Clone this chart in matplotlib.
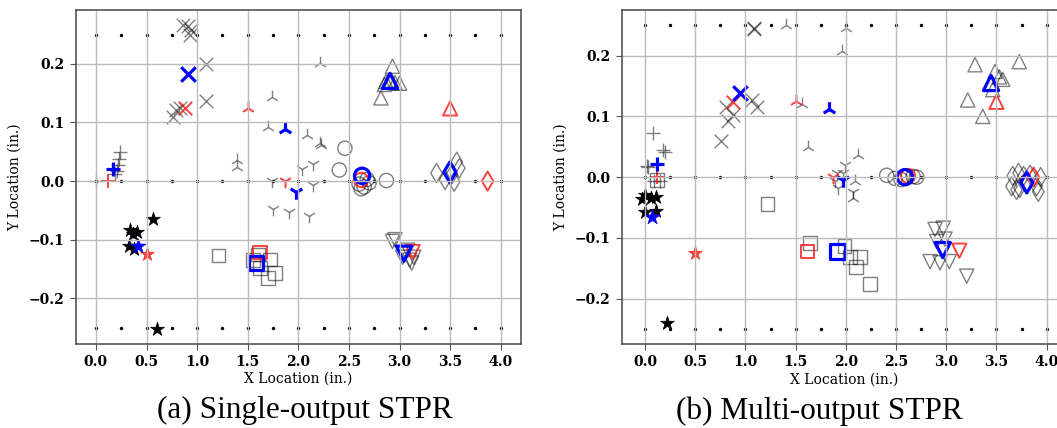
import numpy as np
import matplotlib
matplotlib.use('Agg')
import matplotlib.pyplot as plt

# reference sensor grid
sensor_x = [0.0, 0.25, 0.5, 0.75, 1.0, 1.25, 1.5, 1.75, 2.0, 2.25, 2.5, 2.75, 3.0, 3.25, 3.5, 3.75, 4.0]
sensor_y = [0.25, 0.0, -0.25]

markers = ['+', 'x', '2', '1', 'o', '^', 'd', '*', 's', 'v']

# true impact locations (red), same in both panels
true_x = [0.115, 0.88, 1.50, 1.87, 2.62, 3.50, 3.87, 0.50, 1.62, 3.13]
true_y = [0.0, 0.124, 0.125, 0.0, 0.002, 0.124, 0.0, -0.125, -0.122, -0.121]

# predicted means (blue)
mean_x_a = [0.164, 0.908, 1.869, 1.977, 2.63, 2.905, 3.497, 0.42, 1.582, 3.044]
mean_y_a = [0.020, 0.183, 0.089, -0.018, 0.009, 0.171, 0.015, -0.111, -0.140, -0.124]
mean_x_b = [0.12, 0.946, 1.836, 1.975, 2.59, 3.446, 3.802, 0.067, 1.919, 2.965]
mean_y_b = [0.021, 0.138, 0.112, -0.004, 0.0, 0.155, -0.009, -0.066, -0.1225, -0.120]

# individual predictions (gray / black stars), panel (a)
plus_a_x = [0.0, 0.24, 0.23, 0.22, 0.21, 0.19]
plus_a_y = [0.0, 0.050, 0.038, 0.028, 0.017, 0.012]
cross_a_x = [0.86, 0.908, 0.94, 0.93, 1.086, 1.086, 0.766, 0.79, 0.83]
cross_a_y = [0.266, 0.264, 0.257, 0.250, 0.200, 0.137, 0.109, 0.121, 0.124]
triup_a_x = [2.215, 1.737, 1.70, 2.083, 2.215, 2.22, 1.39, 1.39]
triup_a_y = [0.201, 0.143, 0.092, 0.078, 0.065, 0.062, 0.036, 0.024]
tridn_a_x = [1.737, 2.14, 2.04, 2.14, 1.75, 1.91, 2.11]
tridn_a_y = [0.0, -0.006, 0.020, 0.030, -0.048, -0.052, -0.060]
circ_a_x = [2.46, 2.405, 2.60, 2.65, 2.70, 2.68, 2.62, 2.87]
circ_a_y = [0.056, 0.019, -0.005, -0.010, -0.003, 0.003, -0.013, 0.001]
triu_a_x = [2.93, 2.866, 2.955, 3.0, 2.85, 2.92, 2.816]
triu_a_y = [0.196, 0.170, 0.168, 0.167, 0.165, 0.172, 0.142]
diam_a_x = [3.365, 3.45, 3.54, 3.565, 3.59, 3.515]
diam_a_y = [0.0136, 0.002, -0.001, 0.033, 0.022, 0.011]
star_a_x = [0.563, 0.339, 0.405, 0.365, 0.322, 0.381, 0.602]
star_a_y = [-0.064, -0.084, -0.087, -0.090, -0.110, -0.116, -0.252]
sq_a_x = [1.21, 1.55, 1.60, 1.62, 1.70, 1.77, 1.72]
sq_a_y = [-0.127, -0.135, -0.125, -0.148, -0.165, -0.157, -0.134]
trid_a_x = [2.93, 2.955, 3.08, 3.10, 3.12, 3.14, 3.03]
trid_a_y = [-0.103, -0.100, -0.118, -0.135, -0.140, -0.130, -0.130]

# individual predictions, panel (b)
plus_b_x = [0.076, 0.20, 0.184, 0.033, 0.023, 0.149, 0.09]
plus_b_y = [0.072, 0.042, 0.045, 0.017, 0.019, -0.007, -0.007]
cross_b_x = [1.086, 1.09, 0.807, 1.063, 1.112, 0.88, 0.83, 0.754]
cross_b_y = [0.244, 0.245, 0.115, 0.127, 0.116, 0.103, 0.093, 0.060]
triup_b_x = [1.404, 2.0, 1.96, 1.56, 1.627, 2.125, 2.09, 2.07]
triup_b_y = [0.251, 0.245, 0.207, 0.120, 0.050, 0.037, -0.007, -0.035]
tridn_b_x = [1.91, 1.99, 1.975, 1.89, 1.92, 2.07]
tridn_b_y = [0.007, 0.020, 0.007, -0.007, -0.018, -0.024]
circ_b_x = [2.407, 2.49, 2.55, 2.573, 2.67, 2.706]
circ_b_y = [0.003, -0.002, -0.004, 0.0, 0.001, 0.0]
triu_b_x = [3.287, 3.728, 3.486, 3.529, 3.562, 3.463, 3.214, 3.364]
triu_b_y = [0.185, 0.190, 0.174, 0.165, 0.161, 0.144, 0.127, 0.100]
diam_b_x = [3.662, 3.72, 3.77, 3.835, 3.94, 3.65, 3.73, 3.917, 3.90, 3.70]
diam_b_y = [0.002, 0.007, 0.002, 0.004, 0.0, -0.015, -0.018, -0.024, -0.015, -0.021]
star_b_x = [-0.033, 0.0, 0.057, 0.11, 0.0, 0.11, 0.222]
star_b_y = [-0.036, -0.030, -0.034, -0.032, -0.058, -0.056, -0.240]
sq_b_x = [0.12, 1.22, 1.643, 1.985, 2.04, 2.14, 2.10, 2.24]
sq_b_y = [-0.005, -0.044, -0.108, -0.113, -0.131, -0.131, -0.148, -0.176]
trid_b_x = [2.888, 2.97, 2.988, 2.905, 2.839, 2.938, 3.03, 3.204]
trid_b_y = [-0.086, -0.084, -0.102, -0.106, -0.139, -0.141, -0.139, -0.163]

samples_a = [(plus_a_x, plus_a_y), (cross_a_x, cross_a_y), (triup_a_x, triup_a_y),
             (tridn_a_x, tridn_a_y), (circ_a_x, circ_a_y), (triu_a_x, triu_a_y),
             (diam_a_x, diam_a_y), (star_a_x, star_a_y), (sq_a_x, sq_a_y), (trid_a_x, trid_a_y)]
samples_b = [(plus_b_x, plus_b_y), (cross_b_x, cross_b_y), (triup_b_x, triup_b_y),
             (tridn_b_x, tridn_b_y), (circ_b_x, circ_b_y), (triu_b_x, triu_b_y),
             (diam_b_x, diam_b_y), (star_b_x, star_b_y), (sq_b_x, sq_b_y), (trid_b_x, trid_b_y)]

size = {'+': 95, 'x': 95, '2': 95, '1': 95, 'o': 105, '^': 105, 'd': 95, '*': 110, 's': 95, 'v': 105}


def mark(ax, x, y, m, color, s, lw, alpha=1.0):
    if m in ['+', 'x', '1', '2']:
        ax.scatter(x, y, marker=m, s=s, color=color, linewidths=lw, alpha=alpha)
    elif m == '*':
        ax.scatter(x, y, marker=m, s=s, color=color, linewidths=0.5, alpha=alpha)
    else:
        ax.scatter(x, y, marker=m, s=s, facecolors='none', edgecolors=color,
                   linewidths=lw, alpha=alpha)


def panel(ax, samples, mean_x, mean_y):
    gx, gy = np.meshgrid(sensor_x, sensor_y)
    ax.scatter(gx.ravel(), gy.ravel(), s=6, color='k', marker='o', linewidths=0)
    for i, m in enumerate(markers):
        sx, sy = samples[i]
        if m == '*':
            mark(ax, sx, sy, m, 'k', size[m], 1.0)
        else:
            mark(ax, sx, sy, m, 'k', size[m], 1.0, alpha=0.5)
        mark(ax, [true_x[i]], [true_y[i]], m, 'r', size[m], 1.4, alpha=0.75)
        mark(ax, [mean_x[i]], [mean_y[i]], m, 'b', size[m] * 1.15, 2.3)
    ax.grid(color='#bbbbbb', linewidth=1.0)
    ax.set_xticks([0.0, 0.5, 1.0, 1.5, 2.0, 2.5, 3.0, 3.5, 4.0])
    ax.set_yticks([-0.2, -0.1, 0.0, 0.1, 0.2])
    for lab in ax.get_xticklabels() + ax.get_yticklabels():
        lab.set_fontfamily('DejaVu Serif')
        lab.set_fontweight('bold')
        lab.set_fontsize(10)
    ax.tick_params(color='#555555', length=4, pad=4)
    for sp in ax.spines.values():
        sp.set_color('#555555')
        sp.set_linewidth(1.2)
    ax.set_xlabel('X Location (in.)', fontfamily='DejaVu Serif', fontsize=10, labelpad=2)
    ax.set_ylabel('Y Location (in.)', fontfamily='DejaVu Serif', fontsize=10, labelpad=5)


fig = plt.figure(figsize=(10.57, 4.28), dpi=100)
ax1 = fig.add_axes([0.0716, 0.1963, 0.4213, 0.7804])
ax2 = fig.add_axes([0.5882, 0.1956, 0.4210, 0.7810])

panel(ax1, samples_a, mean_x_a, mean_y_a)
panel(ax2, samples_b, mean_x_b, mean_y_b)
ax1.set_xlim(-0.2, 4.2)
ax1.set_ylim(-0.278, 0.292)
ax2.set_xlim(-0.232, 4.2)
ax2.set_ylim(-0.275, 0.275)

fig.text(0.2885, 0.040, '(a) Single-output STPR', ha='center', va='center',
         fontfamily='Liberation Serif', fontsize=22.5)
fig.text(0.775, 0.040, '(b) Multi-output STPR', ha='center', va='center',
         fontfamily='Liberation Serif', fontsize=22.5)

fig.savefig('out.png', dpi=100)
